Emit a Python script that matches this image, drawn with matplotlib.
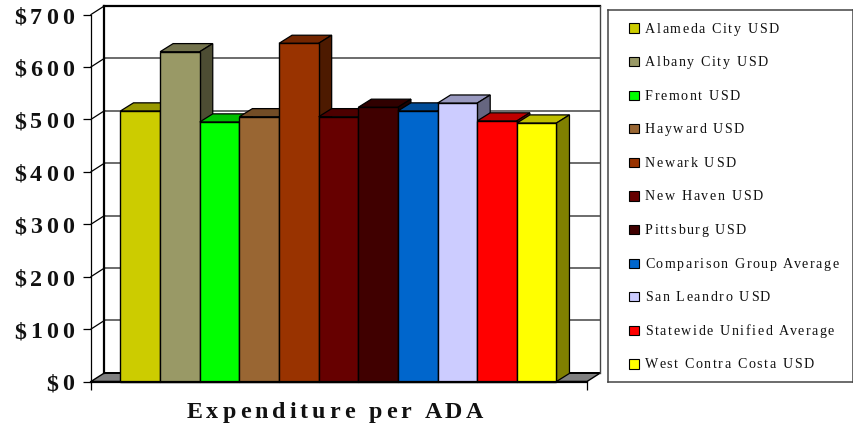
#!/usr/bin/env python
"""Expenditure per ADA: fake-3D column chart with a side legend."""
import matplotlib
matplotlib.use('Agg')
import matplotlib.pyplot as plt
from matplotlib.font_manager import FontProperties
from matplotlib.patches import Polygon
from matplotlib.text import Text
from matplotlib.transforms import Bbox, offset_copy
import numpy as np

DISTRICTS = ['Alameda City USD', 'Albany City USD', 'Fremont USD', 'Hayward USD',
             'Newark USD', 'New Haven USD', 'Pittsburg USD',
             'Comparison Group Average', 'San Leandro USD',
             'Statewide Unified Average', 'West Contra Costa USD']
VALUES = [516, 629, 495, 505, 645, 505, 523, 516, 531, 497, 493]
COLORS = ['#CCCC00', '#999966', '#00FF00', '#996633', '#993300', '#660000',
          '#400000', '#0066CC', '#CCCCFF', '#FF0000', '#FFFF00']
TICKS = [0, 100, 200, 300, 400, 500, 600, 700]
TICK_LABELS = ['$0', '$100', '$200', '$300', '$400', '$500', '$600', '$700']
XLABEL = 'Expenditure per ADA'

W, H = 854, 429
DPI = 100
PX = 1 / DPI * 72     # points per pixel
SERIF = 'Liberation Serif'


class SpacedText(Text):
    """Text with letter spacing (pixels), which plain Text can't do."""

    def __init__(self, *args, spacing=0, **kw):
        super().__init__(*args, **kw)
        self.spacing = spacing

    def _offsets(self, renderer):
        s, prop = self.get_text(), self.get_fontproperties()
        measure = lambda t: renderer.get_text_width_height_descent(t, prop, False)[0]
        bar = measure('|')
        xs = [measure(s[:i] + '|') - bar + i * self.spacing for i in range(len(s) + 1)]
        return xs

    def _start(self, renderer):
        xs = self._offsets(renderer)
        x, y = self.get_transform().transform(self.get_position())
        shift = {'left': 0, 'center': xs[-1] / 2, 'right': xs[-1]}[self.get_ha()]
        return x - shift, y, xs

    def get_window_extent(self, renderer=None, dpi=None):
        renderer = renderer or self.get_figure().canvas.get_renderer()
        x, y, xs = self._start(renderer)
        size = self.get_fontproperties().get_size_in_points() * DPI / 72
        return Bbox([[x, y - 0.25 * size], [x + xs[-1], y + 0.75 * size]])

    def draw(self, renderer):
        x, y, xs = self._start(renderer)
        gc = renderer.new_gc()
        gc.set_foreground(self.get_color())
        gc.set_antialiased(True)
        ypix = renderer.height - y
        for ch, dx in zip(self.get_text(), xs):
            if ch != ' ':
                renderer.draw_text(gc, x + dx, ypix, ch, self.get_fontproperties(), 0)
        gc.restore()


def spaced(ax, x, y, s, size, spacing, weight='normal', ha='left', transform=None):
    prop = FontProperties(family=SERIF, size=size * PX, weight=weight)
    t = SpacedText(x, y, s, spacing=spacing, fontproperties=prop, ha=ha, va='baseline',
                   color='#111111', transform=transform, clip_on=False)
    ax.add_artist(t)
    t.set_transform(transform)
    return t


def shade(color, k):
    rgb = np.array(matplotlib.colors.to_rgb(color))
    return tuple(rgb * k)


def main():
    fig = plt.figure(figsize=(W / DPI, H / DPI), dpi=DPI)

    # front plane of the chart: $0 at y=381.5, $700 at y=14.5, x from 91 to 587
    ax = fig.add_axes([91 / W, (H - 381.5) / H, (587 - 91) / W, 367 / H])
    ax.set_xlim(-0.744, 11.77)
    ax.set_ylim(0, 700)
    x0, x1 = ax.get_xlim()
    dx, dy = 13.5 / 39.65, 16.5   # depth of the 3D box in data units
    bx, by = 13 / 39.65, 15.5     # depth of a column

    # floor and walls
    ax.add_patch(Polygon([(x0, 0), (x0 + dx, dy), (x1 + dx, dy), (x1, 0)], closed=True,
                         fc='#808080', ec='black', lw=1, clip_on=False, zorder=1))
    for v in TICKS[1:-1]:
        ax.plot([x0 + dx, x1 + dx], [v + dy, v + dy], color='#444444', lw=1.1,
                clip_on=False, zorder=1)
    for v in TICKS[1:]:
        ax.plot([x0, x0 + dx], [v, v + dy], color='black', lw=0.9, clip_on=False, zorder=1)
    ax.plot([x0 + dx, x0 + dx], [dy, 700 + dy], color='black', lw=1.6, clip_on=False, zorder=2)
    ax.plot([x0 + dx, x1 + dx], [700 + dy, 700 + dy], color='black', lw=1.6, clip_on=False, zorder=2)
    ax.plot([x0 + dx, x1 + dx], [dy, dy], color='black', lw=1.4, clip_on=False, zorder=2)
    ax.plot([x1 + dx, x1 + dx], [dy, 700 + dy], color='#444444', lw=1, clip_on=False, zorder=2)

    # columns, left to right so each one hides the side of the one before
    for i, (val, col) in enumerate(zip(VALUES, COLORS)):
        z = 3 + i
        ax.bar(i, val, width=1, align='edge', color=col, edgecolor='black', lw=1.0,
               clip_on=False, zorder=z + 0.5)
        ax.add_patch(Polygon([(i, val), (i + bx, val + by), (i + 1 + bx, val + by), (i + 1, val)],
                             closed=True, fc=shade(col, 0.75), ec='black', lw=0.9,
                             clip_on=False, zorder=z))
        ax.add_patch(Polygon([(i + 1, 0), (i + 1 + bx, by), (i + 1 + bx, val + by), (i + 1, val)],
                             closed=True, fc=shade(col, 0.5), ec='black', lw=0.9,
                             clip_on=False, zorder=z))

    for side in ['top', 'right']:
        ax.spines[side].set_visible(False)
    ax.spines['left'].set_linewidth(0.9)
    ax.spines['bottom'].set_linewidth(1.6)
    ax.spines['bottom'].set_zorder(20)
    ax.patch.set_visible(False)
    ax.set_yticks(TICKS)
    ax.set_yticklabels([])
    ax.set_xticks([x0, x1])
    ax.set_xticklabels([])
    ax.tick_params(length=8 * PX, width=0.9)

    label_tr = offset_copy(ax.get_yaxis_transform(), fig=fig, x=-13, y=-9, units='dots')
    for v, lbl in zip(TICKS, TICK_LABELS):
        spaced(ax, 0, v, lbl, 24, 4, weight='bold', ha='right', transform=label_tr)
    fig_px = offset_copy(fig.transFigure, fig=fig, x=0, y=0, units='dots')
    spaced(ax, 337 / W, (H - 418) / H, XLABEL, 24, 4, weight='bold', ha='center', transform=fig_px)

    # legend box
    lax = fig.add_axes([608 / W, (H - 382) / H, 245 / W, 372 / H])
    lax.set_xlim(0, 245)
    lax.set_ylim(10.536, -0.536)
    lax.set_xticks([])
    lax.set_yticks([])
    for sp in lax.spines.values():
        sp.set_color('#444444')
        sp.set_linewidth(1.1)
    rows = np.arange(len(DISTRICTS))
    lax.barh(rows, 10.5, left=21, height=0.27, color=COLORS, edgecolor='black', lw=0.8)
    text_tr = offset_copy(lax.transData, fig=fig, x=0, y=-4.5, units='dots')
    for r, name in zip(rows, DISTRICTS):
        spaced(lax, 37, r, name, 14, 1.6, transform=text_tr)

    fig.savefig('out.png', dpi=DPI)


if __name__ == '__main__':
    main()
